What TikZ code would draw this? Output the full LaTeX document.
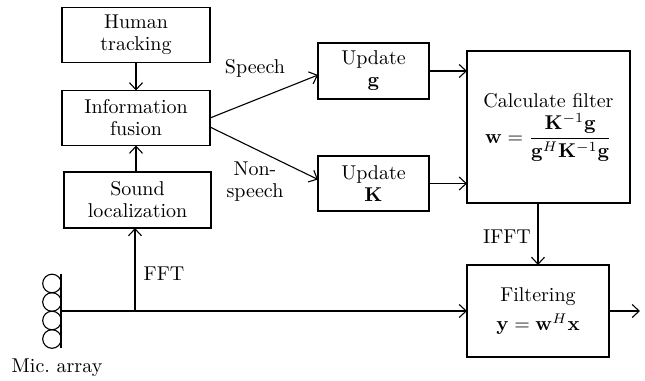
\documentclass[tikz,border=0pt]{standalone}
\usepackage{amsmath,amssymb}
\usetikzlibrary{positioning,calc,arrows.meta}

\begin{document}
\begin{tikzpicture}[x=0.5pt, y=-0.5pt, line width=0.55pt,
    >={Straight Barb[length=3.5pt,width=6.5pt]},
    every node/.style={font=\normalsize},
    blk/.style={draw, align=center, inner sep=0pt, outer sep=0pt}]
    \useasboundingbox (0,0) rectangle (645,381);
    % left column
    \node (human) [blk, minimum width=74pt, minimum height=27.5pt] at (136,35) {Human\\[-1pt]tracking};
    \node (info)  [blk, minimum width=74pt, minimum height=27.5pt] at (136,118) {Information\\[-1pt]fusion};
    \node (sound) [blk, minimum width=73.5pt, minimum height=28pt] at (137.5,200) {Sound\\[-1pt]localization};
    % updates
    \node (updg) [blk, minimum width=55.5pt, minimum height=28pt] at (373.5,71) {Update\\[-1pt]$\mathbf{g}$};
    \node (updk) [blk, minimum width=55.5pt, minimum height=27.5pt] at (373.5,183.5) {Update\\[-1pt]$\mathbf{K}$};
    \node (calc) [blk, minimum width=81.5pt, minimum height=76pt] at (548.5,127)
                 {Calculate filter\\[2pt] $\mathbf{w}=\dfrac{\mathbf{K}^{-1}\mathbf{g}}{\mathbf{g}^{H}\mathbf{K}^{-1}\mathbf{g}}$};
    \node (filt) [blk, minimum width=71pt, minimum height=46pt] at (538,311)
                 {Filtering\\[3pt] $\mathbf{y}=\mathbf{w}^{H}\mathbf{x}$};
    % mic array
    \foreach \y in {283.5,302,320.5,339}
        \draw (52,\y) circle[radius=4.65pt];
    \draw (61,274) -- (61,348);
    \coordinate (mic) at (61,311);
    \coordinate (tap) at (135,311);
    \coordinate (out) at (640,311);
    \node (miclbl) at (57,368) {Mic.\ array};
    % connectors
    \draw[->] (human) -- (info);
    \draw[->] (info.south |- sound.north) -- (info.south);
    \draw[->] (mic) -- (filt.west);
    \draw[->] (tap) -- (tap |- sound.south);
    \node (fftlbl) at (164,274) {FFT};
    \draw[->] (info.east) -- ([yshift=-2pt]updg.west);
    \draw[->] ([yshift=-4.5pt]info.east) -- ([yshift=2pt]updk.west);
    \node (speechlbl) at (255,68) {Speech};
    \node (nonlbl) [align=center] at (255,182) {Non-\\[-1pt]speech};
    \draw[->] (updg.east) -- (updg.east -| calc.west);
    \draw[->] (updk.east) -- (updk.east -| calc.west);
    \draw[->] (filt.north |- calc.south) -- (filt.north);
    \node (ifftlbl) at (507,237) {IFFT};
    \draw[->] (filt.east) -- (out);
\end{tikzpicture}
\end{document}
